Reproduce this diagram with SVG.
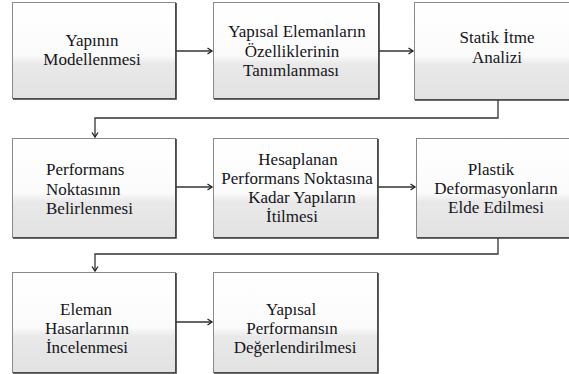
<svg xmlns="http://www.w3.org/2000/svg" width="569" height="374" viewBox="0 0 569 374">
<defs>
<linearGradient id="g" x1="0" y1="0" x2="0" y2="1">
<stop offset="0" stop-color="#ffffff"/>
<stop offset="0.55" stop-color="#fbfbfb"/>
<stop offset="0.64" stop-color="#e9e9e9"/>
<stop offset="1" stop-color="#e2e2e2"/>
</linearGradient>
<marker id="a" markerWidth="8" markerHeight="8" refX="6" refY="4" orient="auto" markerUnits="userSpaceOnUse">
<path d="M1.5,1 L6,4 L1.5,7" fill="none" stroke="#222" stroke-width="1.3"/>
</marker>
</defs>
<style>
.box{fill:url(#g);stroke:#8a8a8a;stroke-width:1}
.sh{fill:none;stroke:#3a3a3a;stroke-width:1.6}
.t{font-size:17px;fill:#151520;text-anchor:middle}
.l{text-anchor:start}
.c{fill:none;stroke:#333;stroke-width:1.3}
</style>
<g id="connectors">
<path class="c" d="M176,51 H212" marker-end="url(#a)"/>
<path class="c" d="M379,51 H413" marker-end="url(#a)"/>
<path class="c" d="M498,100 V118 H95 V137" marker-end="url(#a)"/>
<path class="c" d="M176,187 H212" marker-end="url(#a)"/>
<path class="c" d="M378,187 H415" marker-end="url(#a)"/>
<path class="c" d="M498,238 V254 H95 V271" marker-end="url(#a)"/>
<path class="c" d="M176,322 H212" marker-end="url(#a)"/>
</g>
<g font-family="Liberation Serif, Times New Roman, DejaVu Serif, Noto Serif, serif">
<g id="n1">
<rect class="box" x="12.5" y="2.5" width="163" height="96"/>
<path class="sh" d="M176,3 V99 H13"/>
<text class="t" x="92" y="46">Yapının</text>
<text class="t" x="92" y="65">Modellenmesi</text>
</g>
<g id="n2">
<rect class="box" x="213.5" y="2.5" width="165" height="96"/>
<path class="sh" d="M379,3 V99 H214"/>
<text class="t" x="297" y="37">Yapısal Elemanların</text>
<text class="t" x="292" y="57">Özelliklerinin</text>
<text class="t" x="291" y="76">Tanımlanması</text>
</g>
<g id="n3">
<rect class="box" x="414.5" y="2.5" width="160" height="97"/>
<path class="sh" d="M415,100 H575"/>
<text class="t" x="497" y="43">Statik İtme</text>
<text class="t" x="497" y="63">Analizi</text>
</g>
<g id="n4">
<rect class="box" x="12.5" y="138.5" width="163" height="99"/>
<path class="sh" d="M176,139 V238 H13"/>
<text class="t l" x="46" y="175">Performans</text>
<text class="t l" x="46" y="195">Noktasının</text>
<text class="t l" x="46" y="214">Belirlenmesi</text>
</g>
<g id="n5">
<rect class="box" x="213.5" y="138.5" width="164" height="99"/>
<path class="sh" d="M378,139 V238 H214"/>
<text class="t" x="298" y="165">Hesaplanan</text>
<text class="t" x="297" y="184">Performans Noktasına</text>
<text class="t" x="302" y="203">Kadar Yapıların</text>
<text class="t" x="292" y="222">İtilmesi</text>
</g>
<g id="n6">
<rect class="box" x="416.5" y="138.5" width="160" height="99"/>
<path class="sh" d="M417,238 H577"/>
<text class="t" x="491" y="175">Plastik</text>
<text class="t" x="496" y="194">Deformasyonların</text>
<text class="t" x="496" y="213">Elde Edilmesi</text>
</g>
<g id="n7">
<rect class="box" x="12.5" y="272.5" width="163" height="100"/>
<path class="sh" d="M176,273 V373 H13"/>
<text class="t" x="86" y="315">Eleman</text>
<text class="t" x="87" y="334">Hasarlarının</text>
<text class="t" x="87" y="353">İncelenmesi</text>
</g>
<g id="n8">
<rect class="box" x="213.5" y="272.5" width="164" height="100"/>
<path class="sh" d="M378,273 V373 H214"/>
<text class="t" x="291" y="315">Yapısal</text>
<text class="t" x="292" y="334">Performansın</text>
<text class="t" x="295" y="353">Değerlendirilmesi</text>
</g>
</g>
</svg>
